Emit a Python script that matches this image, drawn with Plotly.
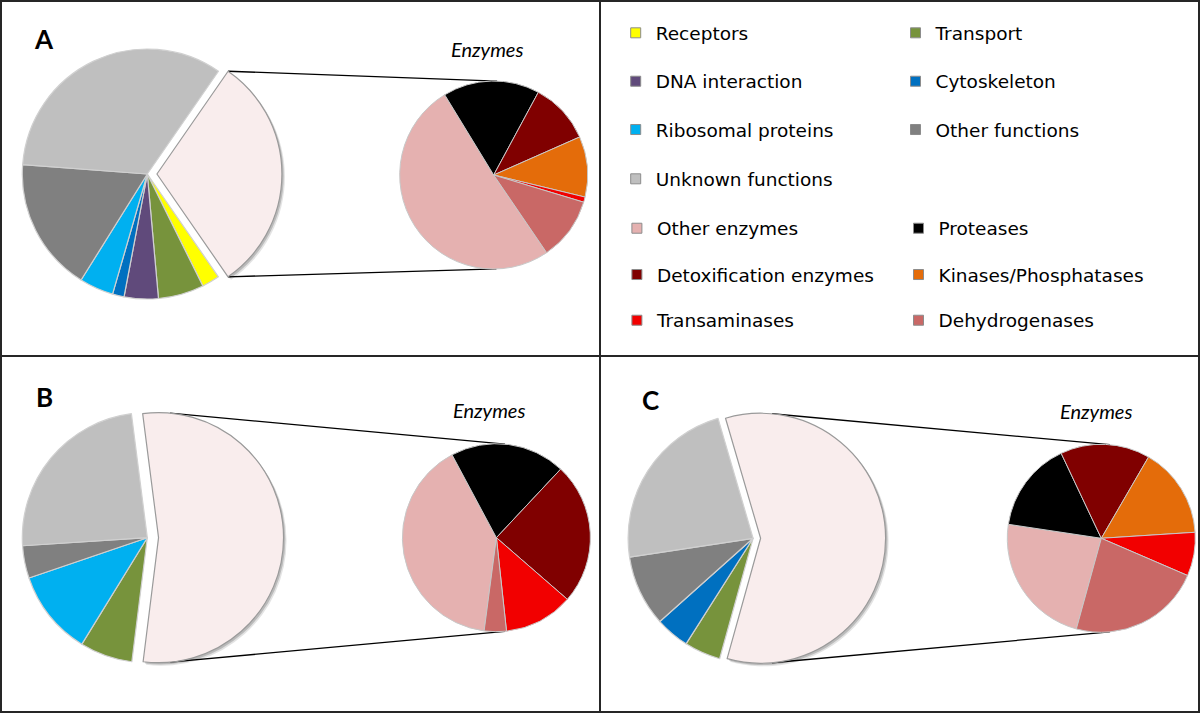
import math
import plotly.graph_objects as go

W, H = 1200, 714

# ---------------- data (percent of proteins) ----------------
func_labels = ["Enzymes", "Receptors", "Transport", "DNA interaction", "Cytoskeleton",
               "Ribosomal proteins", "Other functions", "Unknown functions"]
func_A = [30.7, 2.3, 5.9, 4.4, 1.5, 4.4, 17.3, 33.4]
func_B = [54.0, 0.0, 6.8, 0.0, 0.0, 11.0, 4.2, 24.0]
func_C = [58.9, 0.0, 4.7, 0.0, 4.4, 0.0, 9.2, 22.9]

enz_labels = ["Other enzymes", "Proteases", "Detoxification enzymes",
              "Kinases/Phosphatases", "Transaminases", "Dehydrogenases"]
enz_A = [50.8, 16.6, 10.5, 10.4, 0.9, 10.8]
enz_B = [40.1, 19.8, 24.4, 0.0, 11.9, 3.8]
enz_C = [23.1, 15.6, 15.4, 15.6, 7.5, 22.8]

panel_names = ["A", "B", "C"]
subtitle = "Enzymes"

# ---------------- styles ----------------
func_colors = {"Enzymes": "#F9EDED", "Receptors": "#FFFF00", "Transport": "#77933C",
               "DNA interaction": "#604A7B", "Cytoskeleton": "#0070C0",
               "Ribosomal proteins": "#00B0F0", "Other functions": "#808080",
               "Unknown functions": "#BFBFBF"}
enz_colors = {"Other enzymes": "#E5B1B0", "Proteases": "#000000",
              "Detoxification enzymes": "#800000", "Kinases/Phosphatases": "#E46C0A",
              "Transaminases": "#F20000", "Dehydrogenases": "#C96866"}

R_BIG, R_SMALL = 125.0, 94.0
geom = {
    "A": dict(big=(147.3, 174.0), small=(493.7, 175.0), pull=0.077, rot_big=34.7, rot_small=145.7,
              label=(43.5, 38.5), title=(487.0, 49.0)),
    "B": dict(big=(147.3, 537.7), small=(496.4, 537.7), pull=0.09, rot_big=-7.3, rot_small=187.5,
              label=(44.0, 397.0), title=(489.0, 410.0)),
    "C": dict(big=(753.1, 538.3), small=(1101.3, 538.3), pull=0.06, rot_big=-16.3, rot_small=195.4,
              label=(650.0, 400.0), title=(1095.6, 411.0)),
}
func_data = {"A": func_A, "B": func_B, "C": func_C}
enz_data = {"A": enz_A, "B": enz_B, "C": enz_C}


def px(x):
    return x / W


def py(y):
    return 1 - y / H


def domain_for(center, r, pull, shift=(0.0, 0.0)):
    half = r * (1 + pull)
    cx, cy = center[0] + shift[0], center[1] + shift[1]
    return dict(x=[px(cx - half), px(cx + half)], y=[py(cy + half), py(cy - half)])


fig = go.Figure()
shapes = []
annotations = []

for p in panel_names:
    g = geom[p]
    labs, vals, cols, lcols, pulls, shadow = [], [], [], [], [], []
    for lab, v in zip(func_labels, func_data[p]):
        if v <= 0:
            continue
        labs.append(lab)
        vals.append(v)
        cols.append(func_colors[lab])
        lcols.append("#9A9A9A" if lab == "Enzymes" else "#D0D0D0")
        pulls.append(g["pull"] if lab == "Enzymes" else 0)
        shadow.append("rgba(0,0,0,0.22)" if lab == "Enzymes" else "rgba(0,0,0,0)")
    # soft drop shadow under the exploded slice
    for k, (sh, op) in enumerate([((3.0, 3.0), 0.5), ((1.8, 1.8), 0.8)]):
        fig.add_trace(go.Pie(labels=labs, values=vals, sort=False, direction="clockwise",
                             rotation=g["rot_big"], pull=pulls, textinfo="none", opacity=op,
                             marker=dict(colors=shadow, line=dict(width=0)),
                             domain=domain_for(g["big"], R_BIG, g["pull"], sh), showlegend=False,
                             hoverinfo="skip", name=p + " shadow %d" % k))
    # big pie
    fig.add_trace(go.Pie(labels=labs, values=vals, sort=False, direction="clockwise",
                         rotation=g["rot_big"], pull=pulls, textinfo="none",
                         marker=dict(colors=cols, line=dict(color=lcols, width=1.2)),
                         domain=domain_for(g["big"], R_BIG, g["pull"]), showlegend=False,
                         name=p))
    # small pie
    labs, vals, cols = [], [], []
    for lab, v in zip(enz_labels, enz_data[p]):
        if v <= 0:
            continue
        labs.append(lab)
        vals.append(v)
        cols.append(enz_colors[lab])
    fig.add_trace(go.Pie(labels=labs, values=vals, sort=False, direction="clockwise",
                         rotation=g["rot_small"], textinfo="none",
                         marker=dict(colors=cols, line=dict(color="#C8C8C8", width=1)),
                         domain=domain_for(g["small"], R_SMALL, 0), showlegend=False,
                         name=p + " enzymes"))

    # connector lines from the exploded slice to the small pie
    vals_all = func_data[p]
    tot = sum(vals_all)
    span = 360.0 * vals_all[0] / tot
    s = g["rot_big"]
    e = s + span
    mid = math.radians(s + span / 2)
    c1 = (g["big"][0] + g["pull"] * R_BIG * math.sin(mid), g["big"][1] - g["pull"] * R_BIG * math.cos(mid))
    c2 = g["small"]
    dx, dy = c2[0] - c1[0], c2[1] - c1[1]
    d = math.hypot(dx, dy)
    ux, uy = dx / d, dy / d
    a = (R_BIG - R_SMALL) / d
    b = math.sqrt(1 - a * a)
    for sign in (1, -1):
        nx = a * ux + sign * b * uy
        ny = a * uy - sign * b * ux
        th = math.degrees(math.atan2(nx, -ny))
        thn = (th - s) % 360 + s
        if thn > e:
            thn = e if (thn - e) < (s + 360 - thn) else s
        t = math.radians(thn)
        P1 = (c1[0] + R_BIG * math.sin(t), c1[1] - R_BIG * math.cos(t))
        vx, vy = P1[0] - c2[0], P1[1] - c2[1]
        D = math.hypot(vx, vy)
        base = math.atan2(vy, vx)
        al = math.acos(min(1, R_SMALL / D))
        cands = [(c2[0] + R_SMALL * math.cos(base + al), c2[1] + R_SMALL * math.sin(base + al)),
                 (c2[0] + R_SMALL * math.cos(base - al), c2[1] + R_SMALL * math.sin(base - al))]
        P2 = min(cands, key=lambda q: q[1]) if sign == 1 else max(cands, key=lambda q: q[1])
        shapes.append(dict(type="line", xref="paper", yref="paper",
                           x0=px(P1[0]), y0=py(P1[1]), x1=px(P2[0]), y1=py(P2[1]),
                           line=dict(color="#000000", width=1.3), layer="below"))

    annotations.append(dict(text="<b>%s</b>" % p, x=px(g["label"][0]), y=py(g["label"][1]),
                            xref="paper", yref="paper", showarrow=False, xanchor="center",
                            yanchor="middle", font=dict(family="Lato", size=26, color="#000000")))
    annotations.append(dict(text="<i>%s</i>" % subtitle, x=px(g["title"][0]), y=py(g["title"][1]),
                            xref="paper", yref="paper", showarrow=False, xanchor="center",
                            yanchor="middle", font=dict(family="Lato", size=20, color="#000000")))

# ---------------- legend (one legend box per entry, laid out as a 2-column grid) ----------------
legend_items = [
    ("Receptors", func_colors, 639.7, 33.3), ("Transport", func_colors, 919.5, 33.3),
    ("DNA interaction", func_colors, 639.7, 81.7), ("Cytoskeleton", func_colors, 919.5, 81.7),
    ("Ribosomal proteins", func_colors, 639.7, 130.0), ("Other functions", func_colors, 919.5, 130.0),
    ("Unknown functions", func_colors, 639.7, 179.3),
    ("Other enzymes", enz_colors, 640.9, 228.7), ("Proteases", enz_colors, 922.5, 228.7),
    ("Detoxification enzymes", enz_colors, 640.9, 275.0), ("Kinases/Phosphatases", enz_colors, 922.5, 275.0),
    ("Transaminases", enz_colors, 640.9, 320.7), ("Dehydrogenases", enz_colors, 922.5, 320.7),
]
layout_legends = {}
for i, (lab, cmap, sx, sy) in enumerate(legend_items):
    key = "legend" if i == 0 else "legend%d" % (i + 1)
    fig.add_trace(go.Scatter(x=[None], y=[None], mode="markers", name=lab, legend=key,
                             marker=dict(symbol="square", size=10, color=cmap[lab],
                                         line=dict(color="#8C8C8C", width=1)),
                             hoverinfo="skip"))
    layout_legends[key] = dict(x=px(sx - 24), y=py(sy), xanchor="left", yanchor="middle",
                               bgcolor="rgba(0,0,0,0)", borderwidth=0, itemwidth=30,
                               font=dict(family="DejaVu Sans", size=18.5, color="#000000"))

# ---------------- panel frames ----------------
frame = dict(color="#262626", width=2)
shapes.append(dict(type="rect", xref="paper", yref="paper", x0=px(1), y0=py(712), x1=px(1199), y1=py(1),
                   line=frame, layer="above"))
shapes.append(dict(type="line", xref="paper", yref="paper", x0=px(600), y0=py(1), x1=px(600), y1=py(712),
                   line=frame, layer="above"))
shapes.append(dict(type="line", xref="paper", yref="paper", x0=px(1), y0=py(356), x1=px(1199), y1=py(356),
                   line=frame, layer="above"))

fig.update_layout(width=W, height=H, margin=dict(l=0, r=0, t=0, b=0),
                  paper_bgcolor="#FFFFFF", plot_bgcolor="rgba(0,0,0,0)",
                  xaxis=dict(visible=False, range=[0, 1]), yaxis=dict(visible=False, range=[0, 1]),
                  shapes=shapes, annotations=annotations, **layout_legends)

fig.write_html("out.html", config={"displayModeBar": False},
               post_script="document.body.style.margin='0';document.body.style.overflow='hidden';")
